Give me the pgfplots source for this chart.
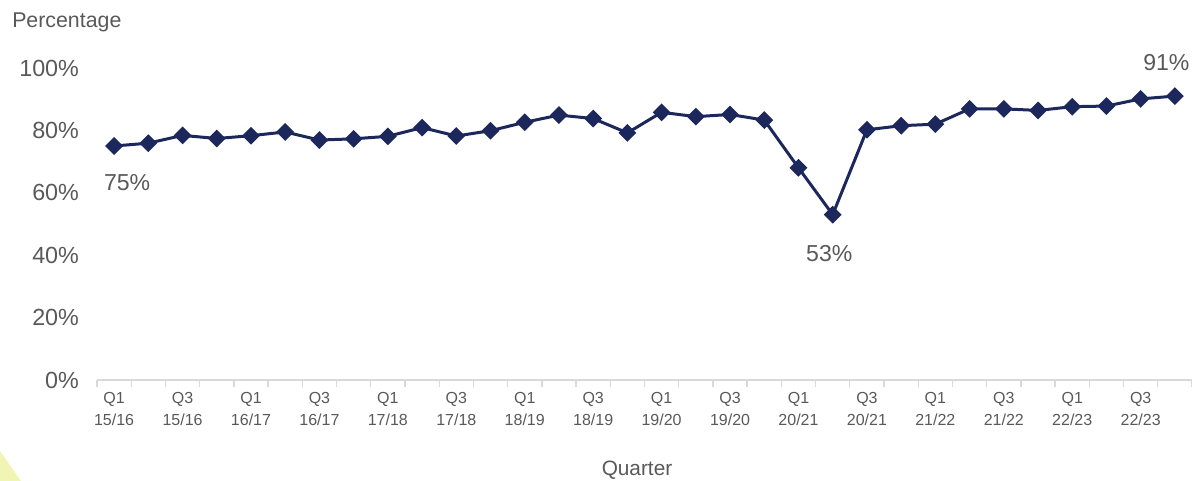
\documentclass[border=0pt]{standalone}
\usepackage{pgfplots}
\pgfplotsset{compat=1.18}
\usepackage{fontspec}
\setmainfont{Liberation Sans}
\definecolor{navy}{RGB}{28,40,92}
\definecolor{txt}{RGB}{89,89,89}
\definecolor{axgray}{RGB}{217,217,217}
\definecolor{corner}{RGB}{240,245,180}

\begin{document}
\begin{tikzpicture}[x=0.75pt,y=0.75pt]
  \path[use as bounding box] (0,0) rectangle (1192,481);
  \fill[corner] (0,0) -- (0,30) -- (21,0) -- cycle;
  \begin{axis}[
      at={(72.75pt,75.75pt)}, anchor=south west,
      scale only axis,
      width=821.25pt, height=234pt,
      clip=false,
      xmin=-0.5, xmax=31.5,
      ymin=0, ymax=100,
      axis x line*=bottom,
      axis y line*=left,
      y axis line style={draw=none},
      x axis line style={axgray, line width=1.2pt},
      xtick={0,2,...,30},
      xticklabels={Q1\\15/16, Q3\\15/16, Q1\\16/17, Q3\\16/17,
                   Q1\\17/18, Q3\\17/18, Q1\\18/19, Q3\\18/19,
                   Q1\\19/20, Q3\\19/20, Q1\\20/21, Q3\\20/21,
                   Q1\\21/22, Q3\\21/22, Q1\\22/23, Q3\\22/23},
      minor xtick={-0.5,0.5,...,31.5},
      major tick length=0pt,
      minor tick length=5pt,
      tick align=outside,
      minor tick style={axgray, line width=1pt},
      xticklabel style={align=center, text=txt,
        font=\fontsize{12}{16.5}\selectfont, yshift=-6pt},
      ytick={0,20,...,100},
      yticklabel={\pgfmathprintnumber{\tick}\%},
      yticklabel style={text=txt, font=\fontsize{17.5}{20}\selectfont, xshift=-10pt},
      /pgf/number format/assume math mode=true,
    ]
    \addplot[navy, line width=2.25pt, mark=square*, mark size=3.6pt,
             mark options={solid, fill=navy, rotate=45}] coordinates {
      (0,75.0) (1,75.9) (2,78.4) (3,77.4) (4,78.3) (5,79.5) (6,76.9) (7,77.3)
      (8,78.1) (9,80.9) (10,78.2) (11,79.9) (12,82.6) (13,84.9) (14,83.8) (15,79.2)
      (16,85.8) (17,84.4) (18,85.1) (19,83.3) (20,68.0) (21,53.0) (22,80.2) (23,81.5)
      (24,82.0) (25,86.9) (26,86.9) (27,86.4) (28,87.6) (29,87.8) (30,90.1) (31,91.0)
    };
    \node[text=txt, font=\fontsize{17.3}{20}\selectfont] at (axis cs:0.38,63.2) {75\%};
    \node[text=txt, font=\fontsize{17.3}{20}\selectfont] at (axis cs:20.9,40.5) {53\%};
    \node[text=txt, font=\fontsize{17.3}{20}\selectfont] at (axis cs:30.75,101.8) {91\%};
  \end{axis}
  \node[text=txt, font=\fontsize{16}{18}\selectfont, anchor=west, inner sep=0pt] at (12,459) {Percentage};
  \node[text=txt, font=\fontsize{15.6}{18}\selectfont] at (637,11) {Quarter};
\end{tikzpicture}
\end{document}
